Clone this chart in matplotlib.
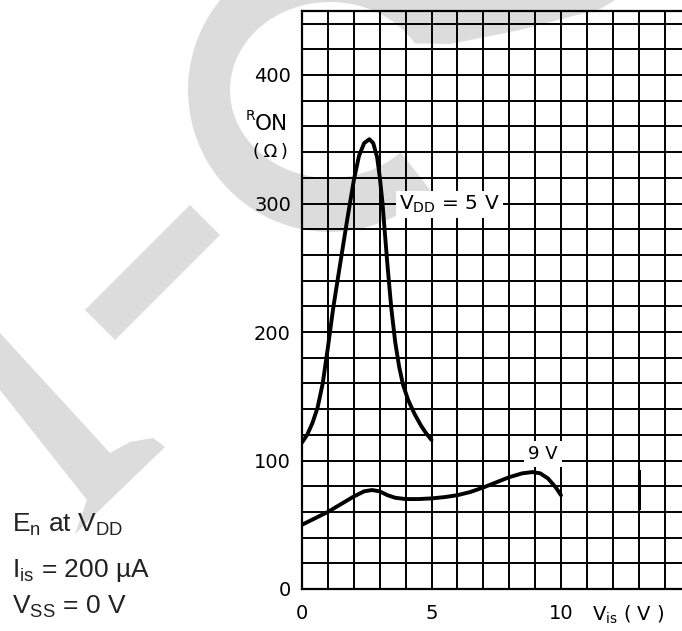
import numpy as np
import matplotlib
matplotlib.use("Agg")
import matplotlib.pyplot as plt
from matplotlib.patches import Polygon

# R_ON versus V_is
vis_5v = [0.0, 0.2, 0.4, 0.6, 0.8, 1.0, 1.2, 1.45, 1.75, 2.0, 2.2, 2.4, 2.6, 2.75, 2.9, 3.0, 3.1,
          3.2, 3.3, 3.45, 3.6, 3.75, 3.9, 4.1, 4.35, 4.6, 4.8, 5.0]
ron_5v = [114, 120, 129, 141, 160, 188, 218, 250, 288, 318, 337, 347, 350, 347, 336, 321, 302,
          277, 252, 218, 192, 173, 159, 147, 136, 127, 121, 116]

vis_9v = [0.0, 0.5, 1.0, 1.5, 2.0, 2.4, 2.7, 3.0, 3.3, 3.6, 4.0, 4.5, 5.0, 5.5, 6.0, 6.5, 7.0,
          7.5, 8.0, 8.5, 8.9, 9.2, 9.5, 9.8, 10.0]
ron_9v = [50, 55, 60, 66, 72, 76, 77, 76, 73, 71, 70, 70, 70.5, 71.5, 73, 75.5, 79,
          83, 87, 90, 91, 90, 86, 79, 73]

# little thick stroke on the grid (scan artefact)
mark_x = [13, 13]
mark_y = [63, 92]

x_ticks = [0, 5, 10]
y_ticks = [0, 100, 200, 300, 400]

W, H = 682, 631
plt.rcParams['font.family'] = ['DejaVu Sans']
plt.rcParams['mathtext.fontset'] = 'custom'
plt.rcParams['mathtext.rm'] = 'Liberation Sans'

fig = plt.figure(figsize=(W / 100, H / 100), dpi=100)


def fx(x):
    return x / W


def fy(y):
    return 1 - y / H


# watermark (light grey letters behind everything), outlines in image pixels
grey = '#dcdcdc'
cx, cy = 330, 90
t_out = np.radians(np.linspace(219, 45, 60))
t_in = np.radians(np.linspace(45, 328, 80))
c_shape = [(615, 0), (220, 0)]
c_shape += [(cx + 142 * np.cos(t), cy + 142 * np.sin(t)) for t in t_out]
c_shape += [(cx + 100 * np.cos(t), cy + 88 * np.sin(t)) for t in t_in]
c_shape += [(450, 44), (520, 30), (600, 9)]
wm_shapes = [
    c_shape,
    [(190, 205), (220, 235), (115, 340), (85, 310)],
    [(0, 333), (110, 453), (130, 442), (153, 438), (165, 447), (110, 500), (75, 534),
     (87, 500), (0, 390)],
]
for pts in wm_shapes:
    fig.patches.append(Polygon([(fx(a), fy(b)) for a, b in pts], closed=True,
                               transform=fig.transFigure, fc=grey, ec='none', zorder=-5))

ax = fig.add_axes([fx(302), 42 / H, 388.5 / W, 578.25 / H])
ax.set_facecolor('none')
ax.set_xlim(0, 15)
ax.set_ylim(0, 450)

ax.set_xticks(x_ticks)
ax.set_xticks(range(0, 16), minor=True)
ax.set_yticks(y_ticks)
ax.set_yticks(range(0, 441, 20), minor=True)
ax.grid(which='both', color='black', linewidth=1.4)
ax.set_axisbelow(True)
ax.tick_params(which='both', length=0)
ax.tick_params(axis='y', pad=8, labelsize=14)
ax.tick_params(axis='x', pad=11, labelsize=14)
for s in ['left', 'bottom', 'top']:
    ax.spines[s].set_linewidth(1.6)
ax.spines['right'].set_visible(False)

ax.plot(vis_5v, ron_5v, color='black', linewidth=2.8, zorder=4, solid_capstyle='round')
ax.plot(vis_9v, ron_9v, color='black', linewidth=2.8, zorder=4, solid_capstyle='round')
ax.plot(mark_x, mark_y, color='black', linewidth=2.2, zorder=4)

ax.text(5.7, 299, r'V$_{\mathregular{DD}}$ = 5 V', ha='center', va='center', fontsize=14.5,
        zorder=5, bbox=dict(fc='white', ec='none', pad=2))
ax.text(9.3, 105, '9 V', ha='center', va='center', fontsize=13,
        zorder=5, bbox=dict(fc='white', ec='none', pad=3))

# axis titles
fig.text(fx(246), fy(120), 'R', fontsize=10, va='baseline')
fig.text(fx(255), fy(130), 'ON', fontsize=15.5, va='baseline')
fig.text(fx(270), fy(157), '(\u2009Ω\u2009)', fontsize=13, ha='center', va='baseline')
fig.text(fx(592), fy(621), r'V$_{\mathregular{is}}$ ( V )', fontsize=14, va='baseline')

# test conditions
cond = {'family': 'Liberation Sans', 'fontsize': 19, 'va': 'baseline', 'color': '#222222'}
fig.text(fx(12), fy(532), r'E$_{\mathregular{n}}$ at V$_{\mathregular{DD}}$', **cond)
fig.text(fx(12), fy(577), r'I$_{\mathregular{is}}$ = 200 µA', **cond)
fig.text(fx(12), fy(614), r'V$_{\mathregular{SS}}$ = 0 V', **cond)

fig.savefig('out.png', dpi=100)
